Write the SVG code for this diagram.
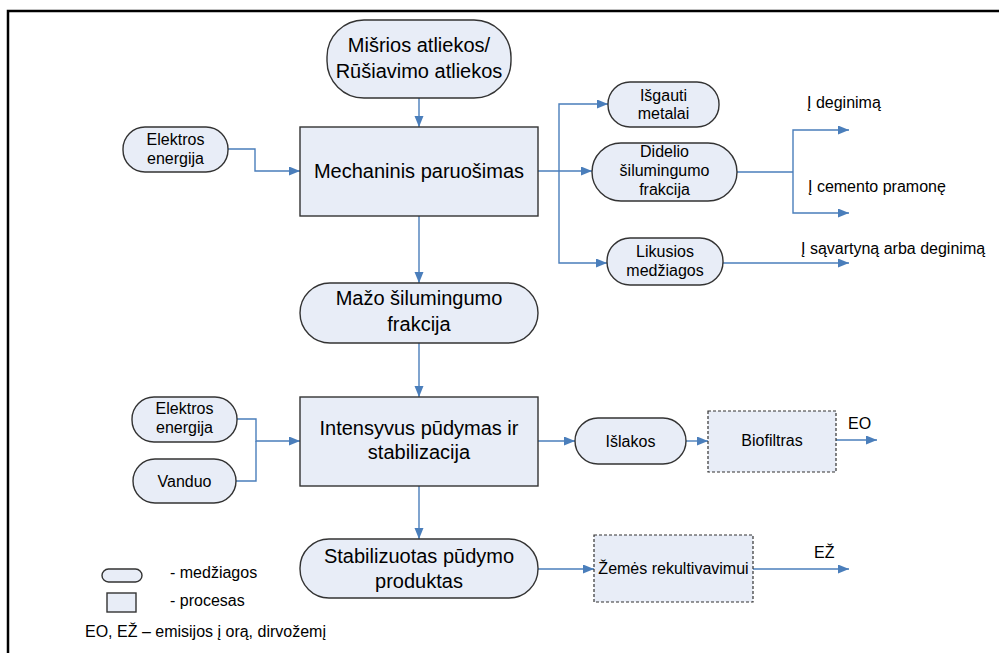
<svg xmlns="http://www.w3.org/2000/svg" width="999" height="653" viewBox="0 0 999 653">
<defs>
<marker id="arr" markerUnits="userSpaceOnUse" markerWidth="12" markerHeight="10" refX="11" refY="4.5" orient="auto">
<path d="M0,0 L11,4.5 L0,9 z" fill="#4A7EBB"/>
</marker>
<style>
.n{fill:#E8EDF7;stroke:#333;stroke-width:1.4}
.d{fill:#E8EDF7;stroke:#333;stroke-width:1.2;stroke-dasharray:3,2}
.c{fill:none;stroke:#4A7EBB;stroke-width:1.4}
.a{marker-end:url(#arr)}
text{font-family:"Liberation Sans",Arial,sans-serif;fill:#000}
.L{font-size:20px;text-anchor:middle}
.S{font-size:16px;text-anchor:middle}
.T{font-size:16px}
</style>
</defs>
<rect width="999" height="653" fill="#fff"/>
<path d="M8,653 V11 H999" fill="none" stroke="#000" stroke-width="2.5"/>

<g id="connectors">
<path class="c a" d="M419,98 V127"/>
<path class="c a" d="M228,149 H255 V171 H300"/>
<path class="c a" d="M538,171 H592"/>
<path class="c a" d="M559,171 V104 H608"/>
<path class="c a" d="M559,171 V263 H607"/>
<path class="c" d="M737,172 H793"/>
<path class="c a" d="M793,172 V130 H849"/>
<path class="c a" d="M793,172 V213 H849"/>
<path class="c a" d="M723,263 H849"/>
<path class="c a" d="M419,216 V283"/>
<path class="c a" d="M419,343 V397"/>
<path class="c a" d="M237,419 H256 V441 H300"/>
<path class="c" d="M236,481 H256 V441"/>
<path class="c a" d="M538,441 H575"/>
<path class="c a" d="M686,441 H708"/>
<path class="c a" d="M836,440 H877"/>
<path class="c a" d="M419,486 V539"/>
<path class="c a" d="M538,569 H594"/>
<path class="c a" d="M753,569 H849"/>
</g>

<g id="misrios">
<rect class="n" x="327" y="20" width="184" height="78" rx="37"/>
<text class="L" x="419" y="52">Mišrios atliekos/</text>
<text class="L" x="419" y="78">Rūšiavimo atliekos</text>
</g>

<g id="elektros1">
<rect class="n" x="123" y="127" width="105" height="45" rx="22"/>
<text class="S" x="175.5" y="145">Elektros</text>
<text class="S" x="175.5" y="164">energija</text>
</g>

<g id="mechaninis">
<rect class="n" x="300" y="127" width="238" height="89"/>
<text class="L" x="419" y="178">Mechaninis paruošimas</text>
</g>

<g id="isgauti">
<rect class="n" x="608" y="82" width="111" height="45" rx="22"/>
<text class="S" x="663.5" y="101">Išgauti</text>
<text class="S" x="663.5" y="119">metalai</text>
</g>

<g id="didelio">
<rect class="n" x="592" y="143" width="145" height="58" rx="29"/>
<text class="S" x="664.5" y="157">Didelio</text>
<text class="S" x="664.5" y="176">šilumingumo</text>
<text class="S" x="664.5" y="195">frakcija</text>
</g>

<g id="likusios">
<rect class="n" x="607" y="238" width="116" height="47" rx="23"/>
<text class="S" x="665" y="257">Likusios</text>
<text class="S" x="665" y="276">medžiagos</text>
</g>

<g id="labels-top">
<text class="T" x="807" y="108">Į deginimą</text>
<text class="T" x="808" y="192">Į cemento pramonę</text>
<text class="T" x="801" y="254">Į sąvartyną arba deginimą</text>
</g>

<g id="mazo">
<rect class="n" x="300" y="283" width="238" height="60" rx="30"/>
<text class="L" x="419" y="305">Mažo šilumingumo</text>
<text class="L" x="419" y="331">frakcija</text>
</g>

<g id="elektros2">
<rect class="n" x="132" y="397" width="105" height="45" rx="22"/>
<text class="S" x="184.5" y="414">Elektros</text>
<text class="S" x="184.5" y="433">energija</text>
</g>

<g id="vanduo">
<rect class="n" x="133" y="459" width="103" height="44" rx="22"/>
<text class="S" x="184.5" y="487">Vanduo</text>
</g>

<g id="intensyvus">
<rect class="n" x="300" y="397" width="238" height="89"/>
<text class="L" x="419" y="435">Intensyvus pūdymas ir</text>
<text class="L" x="419" y="459">stabilizacija</text>
</g>

<g id="islakos">
<rect class="n" x="575" y="418" width="111" height="46" rx="23"/>
<text class="S" x="630.5" y="447">Išlakos</text>
</g>

<g id="biofiltras">
<rect class="d" x="708" y="411" width="128" height="61"/>
<text class="S" x="772" y="446">Biofiltras</text>
</g>
<text class="T" x="848" y="429">EO</text>

<g id="stabilizuotas">
<rect class="n" x="300" y="539" width="238" height="59" rx="29"/>
<text class="L" x="419" y="563">Stabilizuotas pūdymo</text>
<text class="L" x="419" y="588">produktas</text>
</g>

<g id="zemes">
<rect class="d" x="594" y="535" width="159" height="67"/>
<text class="S" x="673.5" y="574">Žemės rekultivavimui</text>
</g>
<text class="T" x="814" y="558">EŽ</text>

<g id="legend">
<rect class="n" x="102" y="569" width="40" height="13" rx="6.5" stroke-width="1"/>
<text class="T" x="170" y="578">- medžiagos</text>
<rect class="n" x="107" y="593" width="29" height="19" stroke-width="1"/>
<text class="T" x="170" y="606">- procesas</text>
<text class="T" x="85" y="637">EO, EŽ – emisijos į orą, dirvožemį</text>
</g>
</svg>
